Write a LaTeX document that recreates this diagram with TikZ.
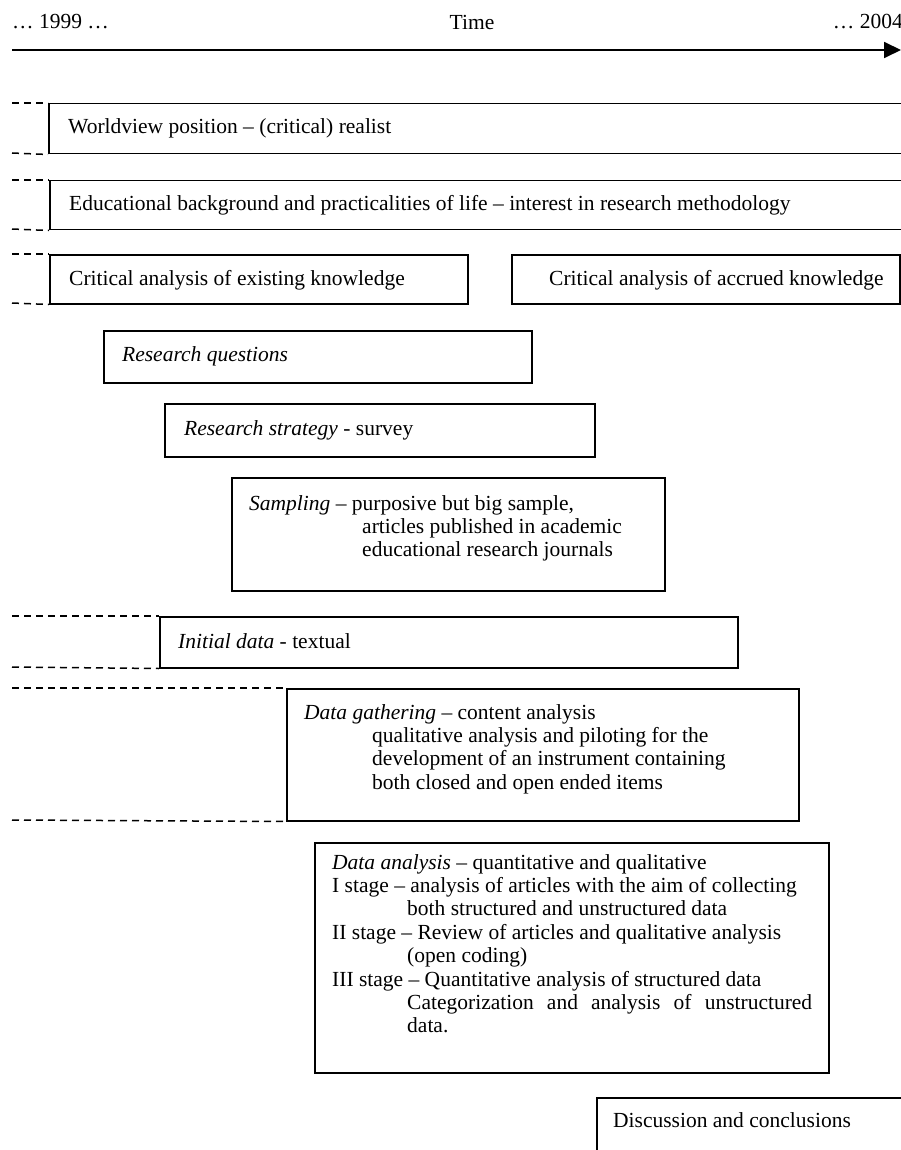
\documentclass[tikz,border=0pt]{standalone}
\usepackage{fontspec}
\setmainfont{Liberation Serif}
\usetikzlibrary{arrows.meta}
\begin{document}
\begin{tikzpicture}[x=1pt,y=-1pt,
  every node/.style={inner sep=0pt, font=\fontsize{21.5}{23.4}\selectfont},
  box/.style={draw, line width=1.5pt, anchor=north west},
  lbl/.style={anchor=west},
  blk/.style={anchor=north west, align=left},
  dsh/.style={line width=1.5pt, dash pattern=on 7pt off 5pt}]
\useasboundingbox (0,0) rectangle (901,1150);
% header
\node[lbl] (y1999) at (12,22) {… 1999 …};
\node (time) at (472,22) {Time};
\node[anchor=east] (y2004) at (903,22) {… 2004};
\coordinate (tstart) at (12,50);
\coordinate (tend) at (901,50);
\draw[line width=1.8pt,-{Triangle[length=17pt,width=16pt]}] (tstart) -- (tend);
% boxes
\node[box, minimum width=870pt, minimum height=50pt] (wv) at (48,103) {};
\node[lbl] (wvt) at (68,128) {Worldview position – (critical) realist};
\node[box, minimum width=870pt, minimum height=49pt] (ed) at (49,180) {};
\node[lbl] (edt) at (69,205) {Educational background and practicalities of life – interest in research methodology};
\node[box, minimum width=418pt, minimum height=49pt] (ce) at (49,254) {};
\node[lbl] (cet) at (69,280) {Critical analysis of existing knowledge};
\node[box, minimum width=388pt, minimum height=49pt] (ca) at (511,254) {};
\node[lbl] (cat) at (549,280) {Critical analysis of accrued knowledge};
\node[box, minimum width=428pt, minimum height=52pt] (rq) at (103,330) {};
\node[lbl] (rqt) at (122,356) {\itshape Research questions};
\node[box, minimum width=430pt, minimum height=53pt] (rs) at (164,403) {};
\node[lbl] (rst) at (184,430) {\textit{Research strategy} - survey};
\node[box, minimum width=433pt, minimum height=113pt] (sa) at (231,477) {};
\node[blk] (sat) at (249,495) {\textit{Sampling} – purposive but big sample,\\
\hspace*{113pt}articles published in academic\\
\hspace*{113pt}educational research journals};
\node[box, minimum width=578pt, minimum height=51pt] (id) at (159,616) {};
\node[lbl] (idt) at (178,641) {\textit{Initial data} - textual};
\node[box, minimum width=512pt, minimum height=132pt] (dg) at (286,688) {};
\node[blk] (dgt) at (304,704) {\textit{Data gathering} – content analysis\\
\hspace*{68pt}qualitative analysis and piloting for the\\
\hspace*{68pt}development of an instrument containing\\
\hspace*{68pt}both closed and open ended items};
\node[box, minimum width=514pt, minimum height=230pt] (da) at (314,842) {};
\node[blk] (dat) at (332,854) {\textit{Data analysis} – quantitative and qualitative\\
I stage – analysis of articles with the aim of collecting\\
\hspace*{75pt}both structured and unstructured data\\
II stage – Review of articles and qualitative analysis\\
\hspace*{75pt}(open coding)\\
III stage – Quantitative analysis of structured data\\
\hspace*{75pt}\makebox[405pt][s]{Categorization and analysis of unstructured}\\
\hspace*{75pt}data.};
\node[box, minimum width=320pt, minimum height=70pt] (dc) at (596,1097) {};
\node[lbl] (dct) at (613,1120) {Discussion and conclusions};
% dashed extensions
\coordinate (w1) at (12,103); \coordinate (w2) at (12,153);
\coordinate (e1) at (12,180); \coordinate (e2) at (12,229);
\coordinate (c1) at (12,254); \coordinate (c2) at (12,303);
\coordinate (i1) at (12,616); \coordinate (i2) at (12,667);
\coordinate (g1) at (12,688); \coordinate (g2) at (12,820);
\draw[dsh] (w1) -- (wv.north west); \draw[dsh] (w2) -- (wv.south west);
\draw[dsh] (e1) -- (ed.north west); \draw[dsh] (e2) -- (ed.south west);
\draw[dsh] (c1) -- (ce.north west); \draw[dsh] (c2) -- (ce.south west);
\draw[dsh] (i1) -- (id.north west); \draw[dsh] (i2) -- (id.south west);
\draw[dsh] (g1) -- (dg.north west); \draw[dsh] (g2) -- (dg.south west);
\end{tikzpicture}
\end{document}
